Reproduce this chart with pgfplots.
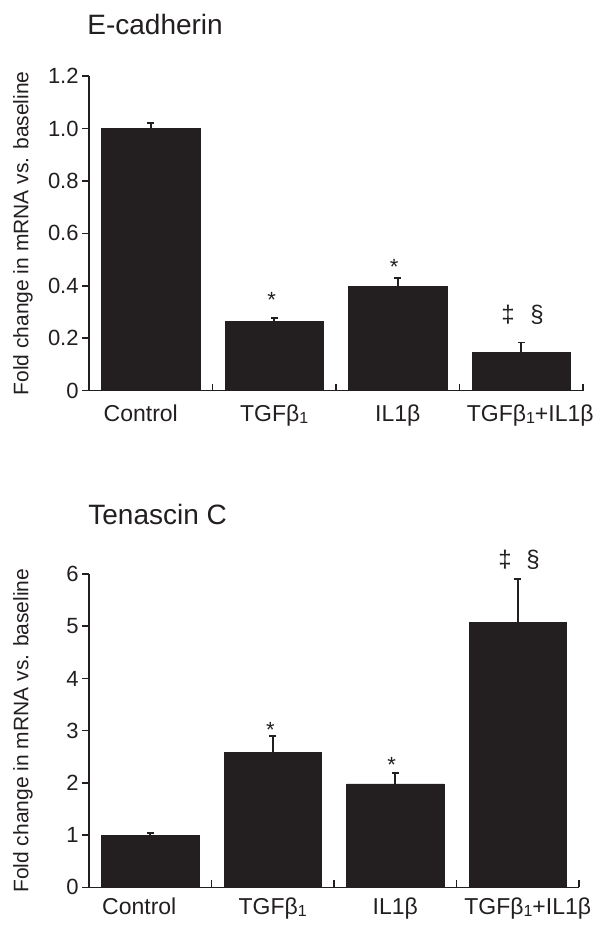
\documentclass[border=0pt]{standalone}
\usepackage{fontspec}
\setmainfont{Liberation Sans}
\usepackage{pgfplots}
\usepackage{pgfplotstable}
\pgfplotsset{compat=1.18}
\definecolor{ink}{RGB}{35,31,32}
\newcommand{\sub}{\raisebox{-1pt}{\fontsize{8}{8}\selectfont 1}}

\pgfplotstableread{
x y e
1 1.000 0.020
2 0.265 0.013
3 0.397 0.032
4 0.146 0.037
}\ecad
\pgfplotstableread{
x y e
1 1.00 0.04
2 2.58 0.32
3 1.98 0.21
4 5.08 0.83
}\tenc

\pgfplotsset{
  mybars/.style={
    scale only axis,
    xmin=0.5, xmax=4.5, ymin=0,
    axis x line*=bottom, axis y line*=left,
    axis line style={ink, line width=0.8pt},
    tick align=inside,
    xtick={1,2,3,4},
    major x tick style={draw=none},
    minor xtick={1.5,2.5,3.5,4.5},
    minor tick length=3.5pt,
    minor x tick style={ink, line width=0.8pt},
    major tick length=3.5pt,
    y tick style={ink, line width=0.8pt, xshift=-3.5pt},
    ticklabel style={font=\fontsize{11}{13}\selectfont, text=ink},
    yticklabel style={anchor=east, inner sep=0pt, xshift=-5pt},
    xticklabel style={anchor=base, inner sep=0pt, font=\fontsize{11.5}{13}\selectfont},
    clip=false,
  },
  mybarplot/.style={
    ybar, bar width=0.795, fill=ink, draw=ink, line width=0.3pt,
    error bars/.cd, y dir=plus, y explicit,
    error bar style={ink, line width=0.8pt},
    error mark options={ink, line width=0.8pt, mark size=1.7pt, rotate=90},
  },
}

\begin{document}
\begin{tikzpicture}[color=ink]
\path[use as bounding box] (0,0) rectangle (300pt,465.5pt);

% ---------- E-cadherin ----------
\node[anchor=base west, inner sep=0pt, font=\fontsize{14}{16}\selectfont] at (43.5pt,448pt) {E-cadherin};
\begin{axis}[mybars,
  at={(44.5pt,270.15pt)}, anchor=south west,
  width=247pt, height=157.35pt,
  ymax=1.2,
  ytick={0,0.2,0.4,0.6,0.8,1,1.2},
  yticklabels={0,0.2,0.4,0.6,0.8,1.0,1.2},
  xticklabels={{Control\kern10pt},{TGFβ\sub},{IL1β},{\kern9pt TGFβ\sub+IL1β}},
  xticklabel style={yshift=-15.5pt},
  ylabel={Fold change in mRNA vs. baseline},
  ylabel style={font=\fontsize{10.5}{12}\selectfont, at={([xshift=-33pt]axis description cs:0,0.5)}, anchor=center},
]
\addplot[mybarplot] table[x=x, y=y, y error=e] {\ecad};
\node[font=\fontsize{11}{13}\selectfont, yshift=-2.5pt] at (axis cs:1.98,0.365) {*};
\node[font=\fontsize{11}{13}\selectfont, yshift=-2.5pt] at (axis cs:2.97,0.491) {*};
\node[font=\fontsize{12}{14}\selectfont] at (axis cs:3.893,0.289) {‡};
\node[font=\fontsize{12}{14}\selectfont] at (axis cs:4.127,0.289) {§};
\end{axis}

% ---------- Tenascin C ----------
\node[anchor=base west, inner sep=0pt, font=\fontsize{14}{16}\selectfont] at (44pt,203pt) {Tenascin C};
\begin{axis}[mybars,
  at={(44.5pt,21.85pt)}, anchor=south west,
  width=245pt, height=156.65pt,
  ymax=6,
  ytick={0,1,2,3,4,5,6},
  yticklabels={0,1,2,3,4,5,6},
  xticklabels={{Control\kern11pt},{TGFβ\sub},{IL1β},{\kern10pt TGFβ\sub+IL1β}},
  xticklabel style={yshift=-13.8pt},
  ylabel={Fold change in mRNA vs. baseline},
  ylabel style={font=\fontsize{10.5}{12}\selectfont, at={([xshift=-33pt]axis description cs:0,0.5)}, anchor=center},
]
\addplot[mybarplot] table[x=x, y=y, y error=e] {\tenc};
\node[font=\fontsize{11}{13}\selectfont, yshift=-2.5pt] at (axis cs:1.98,3.11) {*};
\node[font=\fontsize{11}{13}\selectfont, yshift=-2.5pt] at (axis cs:2.97,2.44) {*};
\node[font=\fontsize{12}{14}\selectfont] at (axis cs:3.896,6.27) {‡};
\node[font=\fontsize{12}{14}\selectfont] at (axis cs:4.124,6.27) {§};
\end{axis}
\end{tikzpicture}
\end{document}
